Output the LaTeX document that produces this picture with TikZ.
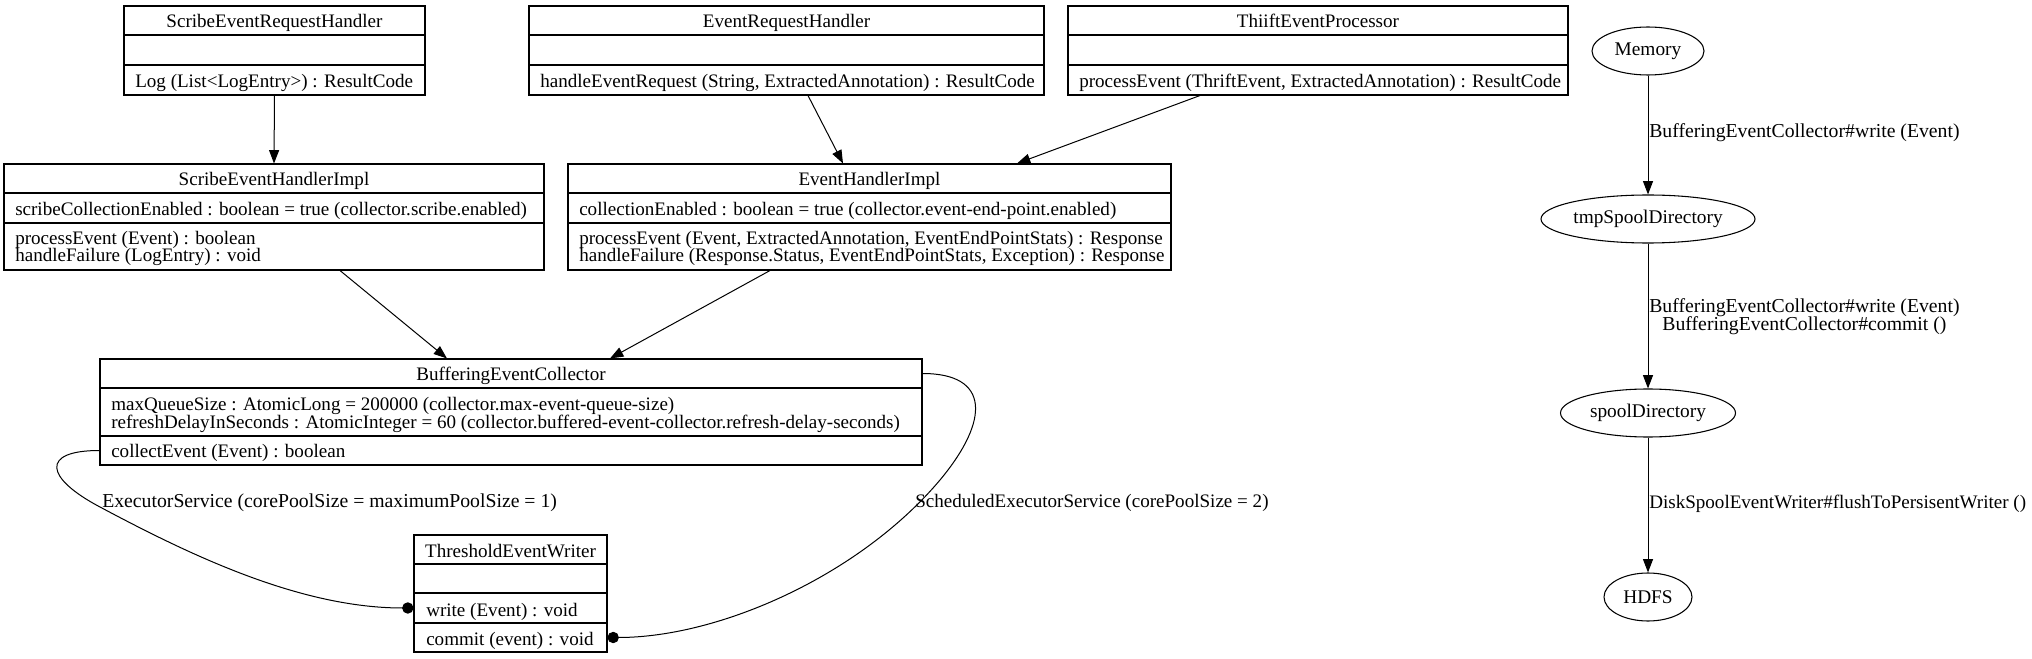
\documentclass[tikz,border=0pt]{standalone}
\usepackage{fontspec}
\setmainfont{Liberation Serif}
\usetikzlibrary{arrows.meta,calc,shapes.geometric}
\newcommand\Row[5]{\node[rowbox, minimum width={(#4-#2)*0.75pt}, minimum height={(#5-#3)*0.75pt}] (#1) at ({(#2+#4)/2},{(#3+#5)/2}) {};}
\begin{document}
\begin{tikzpicture}[x=0.75pt,y=-0.75pt,
  rowbox/.style={draw, rectangle, inner sep=0pt, line width=0.8pt},
  txt/.style={inner sep=0pt, font=\fontsize{14.3}{16}\selectfont},
  etxt/.style={inner sep=0pt, font=\fontsize{14.8}{16}\selectfont},
  ell/.style={draw, ellipse, inner sep=0pt, line width=0.8pt, font=\fontsize{14.5}{16}\selectfont},
  arr/.style={-{Triangle[length=10pt,width=7.5pt]}, line width=0.75pt},
  dotarr/.style={-{Circle[length=8.5pt]}, line width=0.75pt}]
\fill[white] (0,0) rectangle (2032,659);
\useasboundingbox (0,0) rectangle (2032,659);

% ScribeEventRequestHandler
\Row{serh1}{124}{6}{425}{35}
\Row{serh2}{124}{35}{425}{65}
\Row{serh3}{124}{65}{425}{95}
\node[txt, anchor=base] (serhT) at (274.5,28) {ScribeEventRequestHandler};
\node[txt, anchor=base west] (serhM) at (135,88) {Log (List<LogEntry>) : ResultCode};

% EventRequestHandler
\Row{erh1}{529}{6}{1044}{35}
\Row{erh2}{529}{35}{1044}{65}
\Row{erh3}{529}{65}{1044}{95}
\node[txt, anchor=base] (erhT) at (786.5,28) {EventRequestHandler};
\node[txt, anchor=base west] (erhM) at (540,88) {handleEventRequest (String, ExtractedAnnotation) : ResultCode};

% ThiiftEventProcessor
\Row{tep1}{1068}{6}{1568}{35}
\Row{tep2}{1068}{35}{1568}{65}
\Row{tep3}{1068}{65}{1568}{95}
\node[txt, anchor=base] (tepT) at (1318,28) {ThiiftEventProcessor};
\node[txt, anchor=base west] (tepM) at (1079,88) {processEvent (ThriftEvent, ExtractedAnnotation) : ResultCode};

% ScribeEventHandlerImpl
\Row{sehi1}{4}{164}{544}{193}
\Row{sehi2}{4}{193}{544}{223}
\Row{sehi3}{4}{223}{544}{270}
\node[txt, anchor=base] (sehiT) at (274,186) {ScribeEventHandlerImpl};
\node[txt, anchor=base west] (sehiA) at (15,216) {scribeCollectionEnabled : boolean = true (collector.scribe.enabled)};
\node[txt, anchor=base west] (sehiM1) at (15,245) {processEvent (Event) : boolean};
\node[txt, anchor=base west] (sehiM2) at (15,262) {handleFailure (LogEntry) : void};

% EventHandlerImpl
\Row{ehi1}{568}{164}{1171}{193}
\Row{ehi2}{568}{193}{1171}{223}
\Row{ehi3}{568}{223}{1171}{270}
\node[txt, anchor=base] (ehiT) at (869.5,186) {EventHandlerImpl};
\node[txt, anchor=base west] (ehiA) at (579,216) {collectionEnabled : boolean = true (collector.event-end-point.enabled)};
\node[txt, anchor=base west] (ehiM1) at (579,245) {processEvent (Event, ExtractedAnnotation, EventEndPointStats) : Response};
\node[txt, anchor=base west] (ehiM2) at (579,262) {handleFailure (Response.Status, EventEndPointStats, Exception) : Response};

% BufferingEventCollector
\Row{bec1}{100}{359}{922}{388}
\Row{bec2}{100}{388}{922}{436}
\Row{bec3}{100}{436}{922}{465}
\node[txt, anchor=base] (becT) at (511,381) {BufferingEventCollector};
\node[txt, anchor=base west] (becA1) at (111,410) {maxQueueSize : AtomicLong = 200000 (collector.max-event-queue-size)};
\node[txt, anchor=base west] (becA2) at (111,428) {refreshDelayInSeconds : AtomicInteger = 60 (collector.buffered-event-collector.refresh-delay-seconds)};
\node[txt, anchor=base west] (becM) at (111,457) {collectEvent (Event) : boolean};

% ThresholdEventWriter
\Row{tew1}{414}{535}{607}{564}
\Row{tew2}{414}{564}{607}{593}
\Row{tew3}{414}{593}{607}{623}
\Row{tew4}{414}{623}{607}{652}
\node[txt, anchor=base] (tewT) at (510.5,557) {ThresholdEventWriter};
\node[txt, anchor=base west] (tewM1) at (426,616) {write (Event) : void};
\node[txt, anchor=base west] (tewM2) at (426,645) {commit (event) : void};

% class connectors
\draw[arr] (serh3.south) -- (sehi1.north);
\draw[arr] ($(erh3.south)+(21.5,0)$) -- ($(ehi1.north)+(-26.5,0)$);
\draw[arr] ($(tep3.south)+(-118,0)$) -- ($(ehi1.north)+(147.5,0)$);
\draw[arr] ($(sehi3.south)+(66,0)$) -- ($(bec1.north)+(-64,0)$);
\draw[arr] ($(ehi3.south)+(-99.5,0)$) -- ($(bec1.north)+(99,0)$);

\draw[dotarr] (bec3.west) .. controls (40,450.5) and (45,478) .. (100,507) .. controls (190,555) and (300,608) .. (tew3.west);
\node[etxt, anchor=base west] (lblExec) at (102,507) {ExecutorService (corePoolSize = maximumPoolSize = 1)};

\draw[dotarr] (bec1.east) .. controls (990,373.5) and (990,420) .. (940,480) .. controls (860,575) and (720,637.5) .. (tew4.east);
\node[txt, anchor=base west] (lblSched) at (915,507) {ScheduledExecutorService (corePoolSize = 2)};

% storage flow
\node[ell, minimum width=112*0.75pt, minimum height=48*0.75pt] (mem) at (1648,51) {Memory};
\node[ell, minimum width=214*0.75pt, minimum height=48*0.75pt] (tmp) at (1648,219) {tmpSpoolDirectory};
\node[ell, minimum width=175*0.75pt, minimum height=48*0.75pt] (spool) at (1648,413) {spoolDirectory};
\node[ell, minimum width=88*0.75pt, minimum height=48*0.75pt] (hdfs) at (1648,597) {HDFS};

\draw[arr] (mem.south) -- (tmp.north);
\draw[arr] (tmp.south) -- (spool.north);
\draw[arr] (spool.south) -- (hdfs.north);

\node[etxt, anchor=base west] (lbl1) at (1649,138) {BufferingEventCollector\#write (Event)};
\node[etxt, anchor=base west] (lbl2a) at (1649,313) {BufferingEventCollector\#write (Event)};
\node[etxt, anchor=base] (lbl2b) at ($(lbl2a.base)+(0,18)$) {BufferingEventCollector\#commit ()};
\node[txt, anchor=base west] (lbl3) at (1649,508) {DiskSpoolEventWriter\#flushToPersisentWriter ()};
\end{tikzpicture}
\end{document}
